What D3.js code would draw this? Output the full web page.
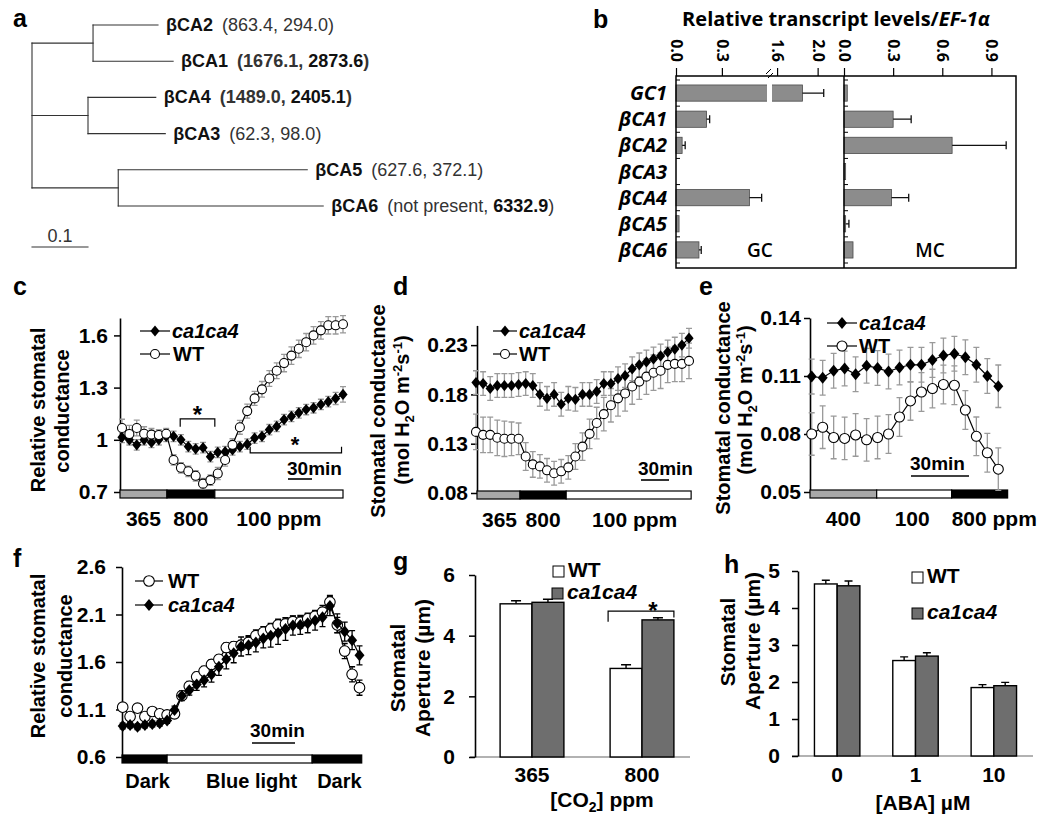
<!DOCTYPE html>
<html><head><meta charset="utf-8">
<script src="https://cdn.jsdelivr.net/npm/d3@7/dist/d3.min.js"></script>
<style>html,body{margin:0;padding:0;background:#fff;}svg{display:block;}</style>
</head><body>
<svg id="fig" width="1050" height="824" viewBox="0 0 1050 824"></svg>
<script>
// ---------------- DATA ----------------
// a: phylogenetic tree
const leafNames = ["βCA2","βCA1","βCA4","βCA3","βCA5","βCA6"];
const leafClade = [0,0,1,1,2,2];
const cladeLength = [0.109, 0.100, 0.154];
const leafLength = [0.116, 0.143, 0.121, 0.138, 0.3375, 0.366];
const gcCounts = [863.4, 1676.1, 1489.0, 62.3, 627.6, null];
const mcCounts = [294.0, 2873.6, 2405.1, 98.0, 372.1, 6332.9];
const scaleBarValue = 0.1;

// b: relative transcript levels
const bRows = ["GC1","βCA1","βCA2","βCA3","βCA4","βCA5","βCA6"];
const gcLevel = [1.85, 0.20, 0.04, 0, 0.48, 0.02, 0.15];
const gcErr   = [0.21, 0.02, 0.02, 0, 0.08, 0, 0.015];
const mcLevel = [0.02, 0.30, 0.66, 0.01, 0.29, 0.01, 0.055];
const mcErr   = [0, 0.11, 0.33, 0, 0.105, 0.02, 0];
const gcTicks = [0, 0.3, 1.6, 2.0];
const mcTicks = [0, 0.3, 0.6, 0.9];

// c: relative stomatal conductance, CO2 365 -> 800 -> 100
const cMut = [1.014,1.0,0.971,1.0,0.985,1.0,1.02,1.02,1.0,0.961,0.948,0.955,0.903,0.928,0.932,0.942,0.961,0.975,1.01,1.02,1.058,1.077,1.116,1.135,1.155,1.174,1.184,1.203,1.219,1.238,1.261];
const cMutErr = [0.03,0.03,0.03,0.03,0.03,0.03,0.03,0.03,0.03,0.03,0.03,0.03,0.03,0.03,0.03,0.03,0.03,0.03,0.03,0.03,0.03,0.03,0.03,0.03,0.03,0.03,0.03,0.03,0.03,0.035,0.045];
const cWT = [1.068,1.033,1.068,1.035,1.03,1.028,1.035,0.884,0.839,0.819,0.793,0.748,0.768,0.806,0.884,0.971,1.072,1.165,1.238,1.29,1.352,1.397,1.441,1.484,1.523,1.561,1.6,1.629,1.658,1.658,1.664];
const cWTErr = [0.05,0.05,0.045,0.04,0.035,0.03,0.03,0.03,0.03,0.03,0.03,0.03,0.03,0.035,0.035,0.035,0.04,0.04,0.04,0.045,0.045,0.045,0.05,0.05,0.05,0.05,0.05,0.05,0.05,0.05,0.05];
const cTicks = [0.7, 1, 1.3, 1.6];
const cSegLabels = ["365","800","100 ppm"];

// d: stomatal conductance (mol H2O m-2 s-1)
const dMut = [0.192,0.191,0.186,0.189,0.189,0.189,0.190,0.191,0.189,0.180,0.176,0.180,0.170,0.176,0.175,0.180,0.180,0.183,0.191,0.191,0.196,0.199,0.206,0.210,0.213,0.216,0.219,0.223,0.226,0.230,0.237];
const dMutErr = [0.012,0.012,0.012,0.012,0.012,0.012,0.012,0.012,0.012,0.012,0.012,0.012,0.012,0.012,0.012,0.012,0.012,0.012,0.012,0.012,0.012,0.012,0.012,0.012,0.012,0.012,0.012,0.012,0.012,0.012,0.01];
const dWT = [0.142,0.139,0.139,0.136,0.135,0.135,0.135,0.117,0.109,0.107,0.103,0.100,0.102,0.106,0.117,0.127,0.140,0.151,0.160,0.169,0.176,0.181,0.188,0.193,0.198,0.202,0.204,0.210,0.211,0.211,0.214];
const dWTErr = [0.018,0.018,0.018,0.018,0.018,0.017,0.016,0.014,0.013,0.012,0.012,0.012,0.012,0.012,0.013,0.014,0.015,0.016,0.017,0.017,0.018,0.018,0.018,0.018,0.018,0.018,0.018,0.018,0.018,0.018,0.018];
const dTicks = [0.08, 0.13, 0.18, 0.23];
const dSegLabels = ["365","800","100 ppm"];

// e: stomatal conductance, CO2 400 -> 100 -> 800
const eMut = [0.1097,0.1091,0.1127,0.1139,0.1109,0.1153,0.1141,0.1123,0.1144,0.1158,0.1158,0.1183,0.1206,0.1215,0.1197,0.1158,0.1100,0.1047];
const eMutErr = [0.009,0.009,0.009,0.009,0.009,0.009,0.009,0.009,0.009,0.009,0.009,0.009,0.009,0.009,0.009,0.009,0.009,0.011];
const eWT = [0.0800,0.0835,0.0782,0.0777,0.0795,0.0770,0.0782,0.0800,0.0888,0.0971,0.1017,0.1035,0.1056,0.1052,0.0924,0.0788,0.0703,0.0618];
const eWTErr = [0.011,0.011,0.011,0.011,0.011,0.011,0.011,0.010,0.010,0.010,0.010,0.010,0.010,0.010,0.010,0.010,0.010,0.011];
const eTicks = [0.05, 0.08, 0.11, 0.14];
const eSegLabels = ["400","100","800 ppm"];

// f: relative stomatal conductance, dark -> blue light -> dark
const fWT = [1.125,1.026,1.114,1.026,1.079,1.054,1.043,1.054,1.245,1.345,1.444,1.504,1.575,1.628,1.752,1.763,1.777,1.806,1.877,1.912,1.947,1.990,2.001,2.025,2.018,2.054,2.082,2.125,2.231,1.99,1.715,1.47,1.33];
const fWTErr = [0.04,0.04,0.04,0.04,0.04,0.04,0.04,0.04,0.04,0.05,0.05,0.05,0.05,0.05,0.05,0.05,0.05,0.06,0.06,0.06,0.06,0.06,0.06,0.06,0.06,0.06,0.06,0.07,0.07,0.08,0.08,0.08,0.08];
const fMut = [0.926,0.937,0.919,0.937,0.948,0.955,0.983,1.096,1.245,1.302,1.362,1.408,1.469,1.55,1.628,1.692,1.763,1.777,1.806,1.848,1.877,1.905,1.947,1.983,1.990,2.008,2.036,2.072,2.189,2.007,1.92,1.83,1.67];
const fMutErr = [0.03,0.03,0.03,0.03,0.03,0.03,0.03,0.04,0.05,0.05,0.06,0.07,0.08,0.09,0.1,0.1,0.1,0.1,0.1,0.1,0.12,0.12,0.12,0.1,0.1,0.1,0.1,0.1,0.1,0.1,0.1,0.1,0.1];
const fTicks = [0.6, 1.1, 1.6, 2.1, 2.6];
const fSegLabels = ["Dark","Blue light","Dark"];

// g: stomatal aperture vs CO2
const gGroups = ["365","800"];
const gWT = [5.05, 2.92];
const gWTErr = [0.1, 0.12];
const gMut = [5.1, 4.52];
const gMutErr = [0.1, 0.07];
const gTicks = [0, 2, 4, 6];

// h: stomatal aperture vs ABA
const hGroups = ["0","1","10"];
const hWT = [4.65, 2.58, 1.85];
const hWTErr = [0.1, 0.1, 0.08];
const hMut = [4.6, 2.7, 1.9];
const hMutErr = [0.13, 0.09, 0.09];
const hTicks = [0, 1, 2, 3, 4, 5];

// ---------------- DRAWING ----------------
const FONT = '"Liberation Sans", Arial, Helvetica, sans-serif';
const BFONT = '"Open Sans", "Noto Sans", sans-serif';
const svg = d3.select("#fig").attr("font-family", FONT);
svg.append("rect").attr("width",1050).attr("height",824).attr("fill","#fff");

function letter(t, x, y){
  svg.append("text").attr("x",x).attr("y",y).attr("font-size",25).attr("font-weight","bold").text(t);
}
const diamond = (cx,cy,w,h)=>`M${cx},${cy-h}L${cx+w},${cy}L${cx},${cy+h}L${cx-w},${cy}Z`;

// ---------- a ----------
(function(){
  const g = svg.append("g");
  const x = d3.scaleLinear().domain([0, scaleBarValue]).range([32, 88]);
  const y = d3.scalePoint().domain(leafNames).range([25, 206]);
  const ln = (x1,y1,x2,y2)=>g.append("line").attr("x1",x1).attr("y1",y1).attr("x2",x2).attr("y2",y2)
      .attr("stroke","#333").attr("stroke-width",1.1).attr("stroke-linecap","square");
  const nodeY = [];
  cladeLength.forEach((cl,ci)=>{
    const idx = leafNames.map((n,i)=>i).filter(i=>leafClade[i]===ci);
    const ys = idx.map(i=>y(leafNames[i]));
    const cy = d3.mean(ys); nodeY.push(cy);
    ln(x(0),cy,x(cl),cy);
    ln(x(cl),d3.min(ys),x(cl),d3.max(ys));
    idx.forEach(i=>{
      const ex = x(cl+leafLength[i]);
      ln(x(cl),y(leafNames[i]),ex,y(leafNames[i]));
      const gv = gcCounts[i], mv = mcCounts[i];
      const both = gv!==null && gv>1000 && mv>1000;
      const t = g.append("text").attr("x",ex+8).attr("y",y(leafNames[i])+6).attr("font-size",18).attr("fill","#333");
      t.append("tspan").attr("font-weight","bold").attr("fill","#111").text(leafNames[i]);
      t.append("tspan").attr("dx",9).attr("font-weight",both?"bold":"normal").text("(");
      t.append("tspan").attr("font-weight",(gv!==null&&gv>1000)?"bold":"normal").text(gv===null?"not present":gv.toFixed(1));
      t.append("tspan").attr("font-weight",both?"bold":"normal").text(", ");
      t.append("tspan").attr("font-weight",mv>1000?"bold":"normal").attr("fill",mv>1000?"#111":"#333").text(mv.toFixed(1));
      t.append("tspan").attr("font-weight",both?"bold":"normal").text(")");
    });
  });
  ln(x(0), d3.min(nodeY), x(0), d3.max(nodeY));
  ln(x(0), 247, x(scaleBarValue), 247);
  g.append("text").attr("x",(x(0)+x(scaleBarValue))/2).attr("y",242).attr("text-anchor","middle")
    .attr("font-size",18).attr("fill","#333").text(String(scaleBarValue));
  letter("a", 13, 27);
})();

// ---------- b ----------
(function(){
  const g = svg.append("g").attr("font-family", BFONT);
  const top = 76, bottom = 268;
  const y = d3.scaleBand().domain(bRows).range([80,263]).paddingInner(0.38).paddingOuter(0.19);
  const xg = d3.scaleLinear().domain([0,0.595,1.55,2.26]).range([676,767,772,844]);
  const xm = d3.scaleLinear().domain([0,1.05]).range([844,1016]);
  function bars(x, vals, errs, breakGap){
    bRows.forEach((r,i)=>{
      const v = vals[i], bw = y.bandwidth(), cy = y(r)+bw/2;
      if (v>0) g.append("rect").attr("x",x(0)).attr("y",y(r)).attr("width",x(v)-x(0)).attr("height",bw)
        .attr("fill","#8c8c8c").attr("stroke","#4a4a4a").attr("stroke-width",0.8);
      if (breakGap && v>breakGap[0]) g.append("rect").attr("x",x(breakGap[0])).attr("y",y(r)-1)
        .attr("width",x(breakGap[1])-x(breakGap[0])).attr("height",bw+2).attr("fill","#fff");
      const e = errs[i];
      if (e>0) g.append("path").attr("d",`M${x(v)},${cy}H${x(v+e)}M${x(v+e)},${cy-4}V${cy+4}`)
        .attr("stroke","#111").attr("stroke-width",1.3).attr("fill","none");
    });
  }
  bars(xg, gcLevel, gcErr, [0.595,1.55]);
  bars(xm, mcLevel, mcErr, null);
  g.append("rect").attr("x",676).attr("y",top).attr("width",1016-676).attr("height",bottom-top)
    .attr("fill","none").attr("stroke","#000").attr("stroke-width",1.5);
  g.append("line").attr("x1",844).attr("x2",844).attr("y1",top).attr("y2",bottom).attr("stroke","#000").attr("stroke-width",1.5);
  for (let i=0;i<=bRows.length;i++){
    const yy = y.range()[0] + i*y.step();
    [676,844].forEach(x0=>g.append("line").attr("x1",x0).attr("x2",x0+4).attr("y1",yy).attr("y2",yy).attr("stroke","#000").attr("stroke-width",1));
  }
  [[xg,gcTicks],[xm,mcTicks]].forEach(([sc,tv])=>{
    const a = g.append("g").attr("transform",`translate(0,${top})`)
      .call(d3.axisTop(sc).tickValues(tv).tickSize(8).tickSizeOuter(0).tickFormat(d3.format(".1f")));
    a.attr("font-family",null).attr("font-size",null);
    a.select(".domain").remove();
    a.selectAll(".tick line").attr("stroke","#000").attr("stroke-width",1.2);
    a.selectAll(".tick text").attr("transform","rotate(90)").attr("x",-14).attr("y",0).attr("dy","0.35em")
      .attr("text-anchor","end").attr("font-size",16).attr("font-weight","bold").attr("fill","#000").attr("font-family",BFONT);
  });
  g.append("path").attr("d","M766,74L771,69M768,78L773,73").attr("stroke","#000").attr("stroke-width",1).attr("fill","none");
  bRows.forEach(r=>{
    g.append("text").attr("x",667).attr("y",y(r)+y.bandwidth()/2+7).attr("text-anchor","end")
      .attr("font-size",20).attr("font-weight","bold").attr("font-style","italic").text(r);
  });
  const t = g.append("text").attr("x",836).attr("y",26).attr("text-anchor","middle").attr("font-size",20).attr("font-weight","bold");
  t.append("tspan").text("Relative transcript levels/");
  t.append("tspan").attr("font-style","italic").text("EF-1α");
  g.append("text").attr("x",760).attr("y",257).attr("text-anchor","middle").attr("font-size",19).attr("font-weight",600).text("GC");
  g.append("text").attr("x",930).attr("y",257).attr("text-anchor","middle").attr("font-size",19).attr("font-weight",600).text("MC");
  letter("b", 593, 28);
})();

// ---------- helpers for time courses ----------
function yTitle(builders, xs, cys, size){
  builders.forEach((b,i)=>{
    const t = svg.append("text").attr("transform",`translate(${xs[i]},${cys[i]}) rotate(-90)`)
      .attr("text-anchor","middle").attr("dy","0.35em").attr("font-size",size).attr("font-weight","bold");
    if (typeof b === "string") t.text(b); else b(t);
  });
}
function molUnit(t){
  t.append("tspan").text("(mol H");
  t.append("tspan").attr("font-size",13).attr("dy",5).text("2");
  t.append("tspan").attr("dy",-5).text("O m");
  t.append("tspan").attr("font-size",13).attr("dy",-7).text("-2");
  t.append("tspan").attr("dy",7).text("s");
  t.append("tspan").attr("font-size",13).attr("dy",-7).text("-1");
  t.append("tspan").attr("dy",7).text(")");
}
function timeCourse(p){
  const g = svg.append("g");
  const n = p.wt.length;
  const x = d3.scaleLinear().domain([0,n-1]).range(p.xRange);
  const y = d3.scaleLinear().domain(p.yDomain).range(p.yRange);
  const ag = g.append("g").attr("transform",`translate(${p.axisX},0)`)
    .call(d3.axisLeft(y).tickValues(p.ticks).tickSize(6).tickSizeOuter(0).tickPadding(p.pad).tickFormat(d=>String(d)));
  ag.attr("font-family",null).attr("font-size",null);
  ag.select(".domain").attr("stroke","#000").attr("stroke-width",1.6);
  ag.selectAll(".tick line").attr("stroke","#000").attr("stroke-width",1.5);
  ag.selectAll(".tick text").attr("font-size",21).attr("font-weight","bold").attr("fill","#000").attr("font-family",FONT);
  const y0 = y(p.yDomain[0]);
  const xs = p.bounds.map(b=>x(b)); xs[0] = p.axisX;
  p.fills.forEach((f,i)=>{
    g.append("rect").attr("x",xs[i]).attr("y",y0-2).attr("width",xs[i+1]-xs[i]).attr("height",8)
      .attr("fill",f).attr("stroke","#000").attr("stroke-width",1.2);
  });
  p.segLabels.forEach((l,i)=>{
    const st = p.labelStart && p.labelStart[i];
    g.append("text").attr("x", st ? xs[i]+(p.labelDx?p.labelDx[i]:0) : (xs[i]+xs[i+1])/2+(p.labelDx?p.labelDx[i]:0))
      .attr("y",p.labelY).attr("text-anchor",st?"start":"middle").attr("font-size",p.labelSize||21).attr("font-weight","bold").text(l);
  });
  function errBars(vals, errs){
    vals.forEach((v,i)=>{
      const xi = x(i), e = errs[i];
      g.append("path").attr("d",`M${xi},${y(v-e)}V${y(v+e)}M${xi-3},${y(v-e)}h6M${xi-3},${y(v+e)}h6`)
        .attr("stroke",p.errColor).attr("stroke-width",1.3).attr("fill","none");
    });
  }
  const line = d3.line().x((d,i)=>x(i)).y(d=>y(d));
  function series(vals, type){
    g.append("path").attr("d",line(vals)).attr("fill","none").attr("stroke","#000").attr("stroke-width",1.2);
    vals.forEach((v,i)=>{
      if (type==="circle") g.append("circle").attr("cx",x(i)).attr("cy",y(v)).attr("r",p.r)
        .attr("fill","#fff").attr("stroke","#000").attr("stroke-width",1.1);
      else g.append("path").attr("d",diamond(x(i),y(v),p.dw,p.dh)).attr("fill","#000");
    });
  }
  errBars(p.wt, p.wtErr); errBars(p.mut, p.mutErr);
  if (p.mutOnTop){ series(p.wt,"circle"); series(p.mut,"diamond"); }
  else { series(p.mut,"diamond"); series(p.wt,"circle"); }
  g.append("text").attr("x",p.scaleText[0]).attr("y",p.scaleText[1]).attr("font-size",19).attr("font-weight","bold").text("30min");
  g.append("line").attr("x1",p.scaleLine[0]).attr("x2",p.scaleLine[1]).attr("y1",p.scaleLine[2]).attr("y2",p.scaleLine[2])
    .attr("stroke","#000").attr("stroke-width",1.6);
  p.legend.forEach(it=>{
    g.append("line").attr("x1",it.x0).attr("x2",it.x1).attr("y1",it.y).attr("y2",it.y).attr("stroke","#000").attr("stroke-width",1.2);
    const cx = (it.x0+it.x1)/2;
    if (it.type==="circle") g.append("circle").attr("cx",cx).attr("cy",it.y).attr("r",p.r).attr("fill","#fff").attr("stroke","#000").attr("stroke-width",1.1);
    else g.append("path").attr("d",diamond(cx,it.y,p.dw,p.dh)).attr("fill","#000");
    g.append("text").attr("x",it.tx).attr("y",it.y+7).attr("font-size",20).attr("font-weight","bold")
      .attr("font-style",it.type==="diamond"?"italic":"normal").text(it.label);
  });
  return {g,x,y};
}

// ---------- c ----------
(function(){
  const P = timeCourse({
    wt:cWT, wtErr:cWTErr, mut:cMut, mutErr:cMutErr, xRange:[122,343], axisX:120,
    yDomain:[0.7,1.7], yRange:[492,318], ticks:cTicks, pad:6, errColor:"#9a9a9a",
    bounds:[0,6.1,12.6,30], fills:["#a8a8a8","#000","#fff"], segLabels:cSegLabels, labelY:526,
    r:4.5, dw:4.6, dh:5.6, mutOnTop:false,
    scaleText:[287,475], scaleLine:[288,312,479],
    legend:[{x0:140,x1:170,y:331,type:"diamond",label:"ca1ca4",tx:172},{x0:140,x1:170,y:354,type:"circle",label:"WT",tx:173}]
  });
  const {g,x,y} = P;
  g.append("path").attr("d",`M${x(7.9)},${y(1.075)}V${y(1.12)}H${x(12.6)}V${y(1.075)}`).attr("fill","none").attr("stroke","#000").attr("stroke-width",1.2);
  g.append("text").attr("x",(x(7.9)+x(12.6))/2).attr("y",423).attr("text-anchor","middle").attr("font-size",24).attr("font-weight","bold").text("*");
  g.append("path").attr("d",`M${x(17.4)},${y(0.96)}V${y(0.925)}H${x(29.8)}V${y(0.96)}`).attr("fill","none").attr("stroke","#000").attr("stroke-width",1.2);
  g.append("text").attr("x",295).attr("y",452).attr("text-anchor","middle").attr("font-size",22).attr("font-weight","bold").text("*");
  yTitle(["Relative stomatal","conductance"],[38,62],[410,411],20);
  letter("c", 13, 295);
})();

// ---------- d ----------
(function(){
  timeCourse({
    wt:dWT, wtErr:dWTErr, mut:dMut, mutErr:dMutErr, xRange:[476,689], axisX:477,
    yDomain:[0.08,0.25], yRange:[493,325.4], ticks:dTicks, pad:3, errColor:"#9a9a9a",
    bounds:[0,6.2,12.7,30.3], fills:["#a8a8a8","#000","#fff"], segLabels:dSegLabels, labelY:527, labelDx:[1,0,6],
    r:4.5, dw:4.6, dh:5.6, mutOnTop:false,
    scaleText:[638,475], scaleLine:[641,669,480],
    legend:[{x0:493,x1:517,y:331,type:"diamond",label:"ca1ca4",tx:519},{x0:493,x1:517,y:354,type:"circle",label:"WT",tx:519}]
  });
  yTitle(["Stomatal conductance", molUnit],[378,402],[411,410],20);
  letter("d", 393, 295);
})();

// ---------- e ----------
(function(){
  timeCourse({
    wt:eWT, wtErr:eWTErr, mut:eMut, mutErr:eMutErr, xRange:[811.7,998.3], axisX:810,
    yDomain:[0.05,0.14], yRange:[492,318], ticks:eTicks, pad:3, errColor:"#9a9a9a",
    bounds:[0,5.92,12.75,17.85], fills:["#a8a8a8","#fff","#000"], segLabels:eSegLabels, labelY:526,
    labelStart:[false,false,true], labelDx:[0,-2,0],
    r:5, dw:5, dh:6, mutOnTop:false,
    scaleText:[910,470], scaleLine:[911,969,476],
    legend:[{x0:827,x1:857,y:323,type:"diamond",label:"ca1ca4",tx:859},{x0:827,x1:857,y:346,type:"circle",label:"WT",tx:859}]
  });
  yTitle(["Stomatal conductance", molUnit],[723,745],[408,400],20);
  letter("e", 699, 295);
})();

// ---------- f ----------
(function(){
  timeCourse({
    wt:fWT, wtErr:fWTErr, mut:fMut, mutErr:fMutErr, xRange:[122.7,359.5], axisX:122,
    yDomain:[0.6,2.6], yRange:[757,567], ticks:fTicks, pad:10, errColor:"#000",
    bounds:[0,6,25.6,32.3], fills:["#000","#fff","#000"], segLabels:fSegLabels, labelY:788, labelSize:20,
    labelStart:[false,false,true], labelDx:[3,12,5],
    r:5.3, dw:5, dh:6, mutOnTop:true,
    scaleText:[250,737], scaleLine:[252,295,743],
    legend:[{x0:135,x1:163,y:581,type:"circle",label:"WT",tx:168},{x0:135,x1:163,y:605,type:"diamond",label:"ca1ca4",tx:168}]
  });
  yTitle(["Relative stomatal","conductance"],[38,65],[656,656],20);
  letter("f", 13, 567);
})();

// ---------- bar panels ----------
function barPanel(p){
  const g = svg.append("g");
  const y = d3.scaleLinear().domain(p.yDomain).range(p.yRange);
  const x = d3.scaleBand().domain(p.groups).range(p.xRange).paddingInner(0.42).paddingOuter(0.21);
  const bw = x.bandwidth()/2;
  g.append("line").attr("x1",p.axisLine[0]).attr("x2",p.axisLine[1]).attr("y1",y(0)).attr("y2",y(0))
    .attr("stroke","#999").attr("stroke-width",1.6);
  p.groups.forEach((k,i)=>{
    [[p.wt,p.wtErr,"#fff"],[p.mut,p.mutErr,"#6e6e6e"]].forEach(([v,e,f],j)=>{
      const bx = x(k)+j*bw, cx = bx+bw/2;
      g.append("path").attr("d",`M${cx},${y(v[i])}V${y(v[i]+e[i])}M${cx-p.cap},${y(v[i]+e[i])}h${2*p.cap}`)
        .attr("stroke","#000").attr("stroke-width",1.4).attr("fill","none");
      g.append("rect").attr("x",bx).attr("y",y(v[i])).attr("width",bw).attr("height",y(0)-y(v[i]))
        .attr("fill",f).attr("stroke","#000").attr("stroke-width",1.4);
    });
    g.append("text").attr("x",x(k)+x.bandwidth()/2).attr("y",782).attr("text-anchor","middle")
      .attr("font-size",21).attr("font-weight","bold").text(k);
  });
  const ag = g.append("g").attr("transform",`translate(${p.axisX},0)`)
    .call(d3.axisLeft(y).tickValues(p.ticks).tickSize(6).tickSizeOuter(0).tickPadding(p.pad).tickFormat(d=>String(d)));
  ag.attr("font-family",null).attr("font-size",null);
  ag.select(".domain").attr("stroke","#000").attr("stroke-width",1.6);
  ag.selectAll(".tick line").attr("stroke","#000").attr("stroke-width",1.5);
  ag.selectAll(".tick text").attr("font-size",21).attr("font-weight","bold").attr("fill","#000").attr("font-family",FONT);
  p.legend.forEach(it=>{
    g.append("rect").attr("x",it.x).attr("y",it.y).attr("width",11).attr("height",11)
      .attr("fill",it.fill).attr("stroke","#000").attr("stroke-width",1);
    g.append("text").attr("x",it.x+15).attr("y",it.y+11).attr("font-size",21).attr("font-weight","bold")
      .attr("font-style",it.italic?"italic":"normal").text(it.label);
  });
  return {g,x,y};
}

// ---------- g ----------
(function(){
  const P = barPanel({
    groups:gGroups, wt:gWT, wtErr:gWTErr, mut:gMut, mutErr:gMutErr, ticks:gTicks,
    yDomain:[0,6], yRange:[757,575], xRange:[477,697], axisX:475, axisLine:[470,690], pad:14, cap:5,
    legend:[{x:553,y:566,fill:"#fff",label:"WT"},{x:552,y:588,fill:"#6e6e6e",label:"ca1ca4",italic:true}]
  });
  const {g,x,y} = P;
  const x0 = x("800"), x1 = x("800")+x.bandwidth();
  g.append("path").attr("d",`M${x0-2},${y(4.46)}V${y(4.81)}H${x1}V${y(4.6)}`).attr("fill","none").attr("stroke","#000").attr("stroke-width",1.2);
  g.append("text").attr("x",653).attr("y",619).attr("text-anchor","middle").attr("font-size",24).attr("font-weight","bold").text("*");
  const t = svg.append("text").attr("x",602).attr("y",807).attr("text-anchor","middle").attr("font-size",21).attr("font-weight","bold");
  t.append("tspan").text("[CO");
  t.append("tspan").attr("font-size",14).attr("dy",5).text("2");
  t.append("tspan").attr("dy",-5).text("] ppm");
  yTitle(["Stomatal","Aperture (µm)"],[398,423],[668,668],21);
  letter("g", 393, 570);
})();

// ---------- h ----------
(function(){
  barPanel({
    groups:hGroups, wt:hWT, wtErr:hWTErr, mut:hMut, mutErr:hMutErr, ticks:hTicks,
    yDomain:[0,5], yRange:[756,571], xRange:[798,1033], axisX:798, axisLine:[792,1033], pad:12, cap:4,
    legend:[{x:912,y:572,fill:"#fff",label:"WT"},{x:912,y:608,fill:"#6e6e6e",label:"ca1ca4",italic:true}]
  });
  svg.append("text").attr("x",923).attr("y",810).attr("text-anchor","middle").attr("font-size",21).attr("font-weight","bold").text("[ABA] µM");
  yTitle(["Stomatal","Aperture (µm)"],[728,753],[642,641],21);
  letter("h", 724, 573);
})();
</script>
</body></html>
